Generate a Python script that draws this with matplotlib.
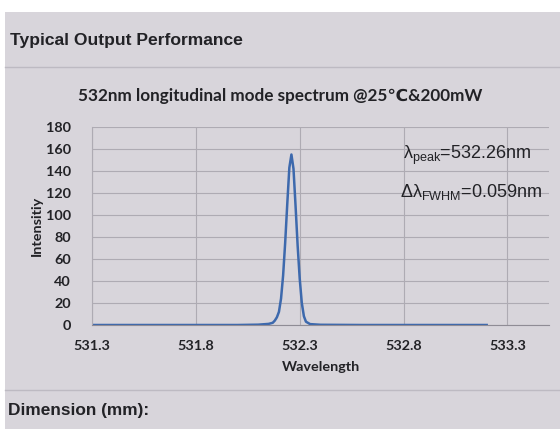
import matplotlib
matplotlib.use('Agg')
import matplotlib.pyplot as plt
from matplotlib.patches import Rectangle
from matplotlib.lines import Line2D

# data
wavelength = [531.30, 532.00, 532.10, 532.15, 532.17, 532.18, 532.19, 532.20, 532.21,
              532.22, 532.23, 532.24, 532.25, 532.26, 532.27, 532.28, 532.29, 532.30,
              532.31, 532.32, 532.33, 532.35, 532.40, 532.60, 533.20]
intensity = [0, 0, 0.3, 1, 2, 4, 7, 12, 24,
             45, 75, 110, 143, 155, 142, 108, 72, 42,
             20, 8, 3, 0.8, 0.2, 0, 0]
x_ticks = [531.3, 531.8, 532.3, 532.8, 533.3]
y_ticks = [0, 20, 40, 60, 80, 100, 120, 140, 160, 180]

W, H = 560, 429
bg = '#d8d5db'
grid_c = '#aeabb3'
txt_c = '#222226'
line_c = '#3d69ad'

plt.rcParams['mathtext.fontset'] = 'custom'
plt.rcParams['mathtext.rm'] = 'Liberation Sans'

fig = plt.figure(figsize=(W / 100, H / 100), dpi=100)
fig.patch.set_facecolor(bg)

def fy(y):
    return 1 - y / H

def fx(x):
    return x / W

# white photo borders
fig.patches.append(Rectangle((0, fy(12)), 1, 12 / H, transform=fig.transFigure,
                             facecolor='white', edgecolor='none', zorder=0))
fig.patches.append(Rectangle((0, 0), fx(5), 1, transform=fig.transFigure,
                             facecolor='white', edgecolor='none', zorder=0))

# section separator lines
for yy in (67, 390):
    fig.lines.append(Line2D([fx(5), 1], [fy(yy), fy(yy)], transform=fig.transFigure,
                            color='#bdbac2', lw=1))

fig.text(fx(10), fy(40), 'Typical Output Performance', family='Liberation Sans',
         weight='bold', fontsize=12.6, color=txt_c, va='center', ha='left')
fig.text(fx(8), fy(411), 'Dimension (mm):', family='Liberation Sans',
         weight='bold', fontsize=12.4, color=txt_c, va='center', ha='left')
fig.text(fx(280), fy(96), '532nm longitudinal mode spectrum @25\u2103&200mW',
         family=['Lato', 'DejaVu Sans'], weight='bold', fontsize=12.3, color=txt_c,
         va='center', ha='center')

ax = fig.add_axes([fx(92), fy(325), fx(549 - 92), (325 - 127) / H])
ax.set_facecolor(bg)
ax.plot(wavelength, intensity, color=line_c, lw=1.8)
ax.set_xlim(531.3, 533.5)
ax.set_ylim(0, 180)
ax.set_xticks(x_ticks)
ax.set_xticklabels([f'{v:.1f}' for v in x_ticks])
ax.set_yticks(y_ticks)
ax.grid(True, color=grid_c, lw=0.8)
ax.set_axisbelow(True)
for s in ('top', 'right'):
    ax.spines[s].set_visible(False)
ax.spines['left'].set_color(grid_c)
ax.spines['bottom'].set_color('#8f8c95')
ax.tick_params(length=0, colors=txt_c, labelsize=10.4)
for lab in ax.get_xticklabels() + ax.get_yticklabels():
    lab.set_family('Lato')
    lab.set_weight('bold')
ax.tick_params(axis='y', pad=15)
ax.tick_params(axis='x', pad=11)
ax.set_xlabel('Wavelength', family='Lato', weight='bold', fontsize=10.4, color=txt_c, labelpad=6)
ax.set_ylabel('Intensitiy', family='Lato', weight='bold', fontsize=10.4, color=txt_c, labelpad=2)

fig.text(fx(403), fy(155), '\u03bb$_{\\mathrm{peak}}$=532.26nm', family='Liberation Sans',
         fontsize=13, color=txt_c, va='center', ha='left')
fig.text(fx(400), fy(192), '\u0394\u03bb$_{\\mathrm{FWHM}}$=0.059nm', family='Liberation Sans',
         fontsize=13, color=txt_c, va='center', ha='left')

fig.savefig('out.png', dpi=100, facecolor=fig.get_facecolor())
